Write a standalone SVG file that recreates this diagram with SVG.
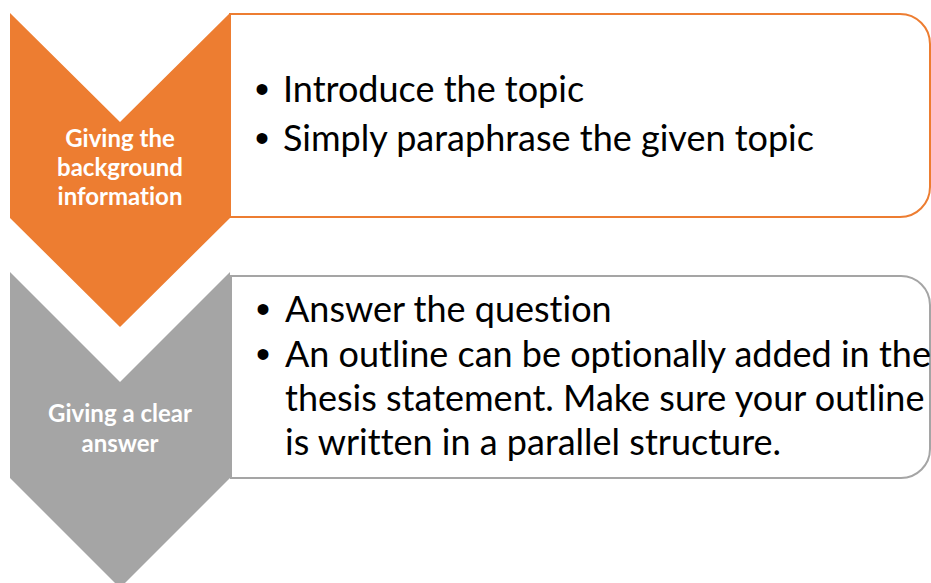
<svg xmlns="http://www.w3.org/2000/svg" width="931" height="583" viewBox="0 0 931 583">
<style>
.box{fill:#ffffff;stroke-width:2}
.o{stroke:#ED7D31}
.g{stroke:#A5A5A5}
.lbl{font-family:Lato,"Liberation Sans",sans-serif;font-weight:bold;font-size:24px;fill:#ffffff;text-anchor:middle;font-variant-ligatures:none}
.txt{font-family:Lato,"Liberation Sans",sans-serif;font-size:36px;fill:#000000;font-variant-ligatures:none}
.bul{font-family:"Liberation Sans",sans-serif;font-size:40px;fill:#000000;text-anchor:middle}
</style>
<rect width="931" height="583" fill="#ffffff"/>
<g id="box1">
<path class="box o" d="M230,14 H900 A30,30 0 0 1 930,44 V187 A30,30 0 0 1 900,217 H230 Z"/>
<text class="bul" x="262" y="103">•</text>
<text class="txt" x="283" y="102">Introduce the topic</text>
<text class="bul" x="262" y="152">•</text>
<text class="txt" x="283" y="151">Simply paraphrase the given topic</text>
</g>
<g id="box2">
<path class="box g" d="M231,276 H901 A29,29 0 0 1 930,305 V449 A29,29 0 0 1 901,478 H231 Z"/>
<text class="bul" x="263" y="323">•</text>
<text class="txt" x="285" y="322">Answer the question</text>
<text class="bul" x="263" y="368">•</text>
<text class="txt" x="285" y="367">An outline can be optionally added in the</text>
<text class="txt" x="285" y="411">thesis statement. Make sure your outline</text>
<text class="txt" x="285" y="455">is written in a parallel structure.</text>
</g>
<g id="chevron1">
<polygon fill="#ED7D31" points="10,13 120,122 230,13 230,218 120,327 10,218"/>
<text class="lbl" x="120" y="147">Giving the</text>
<text class="lbl" x="120" y="176">background</text>
<text class="lbl" x="120" y="205">information</text>
</g>
<g id="chevron2">
<polygon fill="#A5A5A5" points="10,272 120,382 230,272 230,478 120,588 10,478"/>
<text class="lbl" x="120" y="422">Giving a clear</text>
<text class="lbl" x="120" y="452">answer</text>
</g>
<g id="connectors"></g>
</svg>
